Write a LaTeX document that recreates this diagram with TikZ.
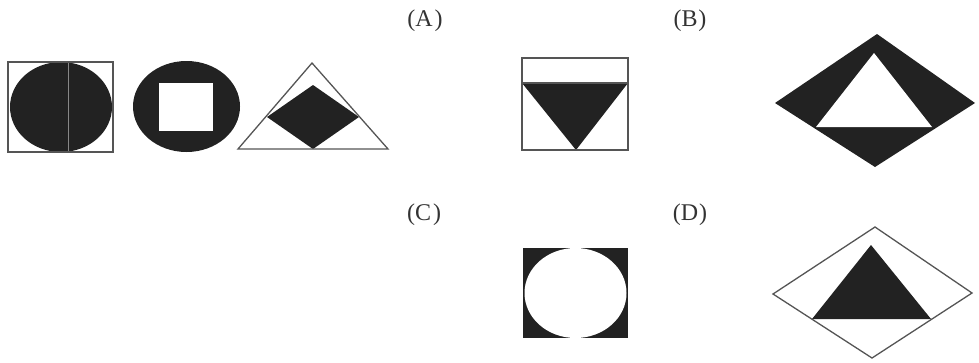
\documentclass[tikz,border=0pt]{standalone}
\usepackage{fontspec}
\setmainfont{Liberation Serif}
\definecolor{ink}{HTML}{222222}
\definecolor{edge}{HTML}{555555}
\definecolor{txt}{HTML}{333333}
\tikzset{
  outline/.style={draw=edge, line width=1.3pt, line join=miter},
  lab/.style={font=\fontsize{24pt}{28pt}\selectfont, text=txt, inner sep=0pt}
}
\begin{document}
\begin{tikzpicture}[x=1pt,y=-1pt]
\useasboundingbox (0,0) rectangle (979,362);
% labels
\node[lab] (la) at (425,21) {(A\kern2pt)};
\node[lab] (lb) at (690,21) {(B\kern1pt)};
\node[lab] (lc) at (424,215) {(C\kern2pt)};
\node[lab] (ld) at (690,215) {(D\kern1pt)};
% shape 1: square with filled ellipse
\fill[ink] (61,107) ellipse [x radius=51, y radius=45];
\draw[edge!70, line width=0.8pt] (68,62.5) -- (68,151.5);
\draw[outline] (8,62) rectangle (113,152);
% shape 2: ellipse with white square
\fill[ink] (186.5,106.5) ellipse [x radius=53.5, y radius=45.5];
\fill[white] (159,83) rectangle (213,131);
% shape 3: triangle with diamond
\fill[ink] (313,85) -- (359,117) -- (313,149) -- (267,117) -- cycle;
\draw[outline] (312,63) -- (388,149) -- (238,149) -- cycle;
% B left: box with inverted triangle
\fill[ink] (522,83) -- (628,83) -- (576,150) -- cycle;
\draw[outline] (522,58) rectangle (628,150);
\draw[outline] (522,83) -- (628,83);
% B right: black diamond with white triangle
\fill[ink] (877,34) -- (975,103) -- (875,167) -- (775,103) -- cycle;
\fill[white] (874,53) -- (932,127) -- (816,127) -- cycle;
% C: black box with white ellipse
\fill[ink] (523,248) rectangle (628,338);
\fill[white] (575.5,293) ellipse [x radius=51, y radius=45];
% D: outline diamond with black triangle
\fill[ink] (871,245) -- (931,319) -- (812,319) -- cycle;
\draw[outline] (875,227) -- (972,293) -- (872,358) -- (773,294) -- cycle;
\end{tikzpicture}
\end{document}
